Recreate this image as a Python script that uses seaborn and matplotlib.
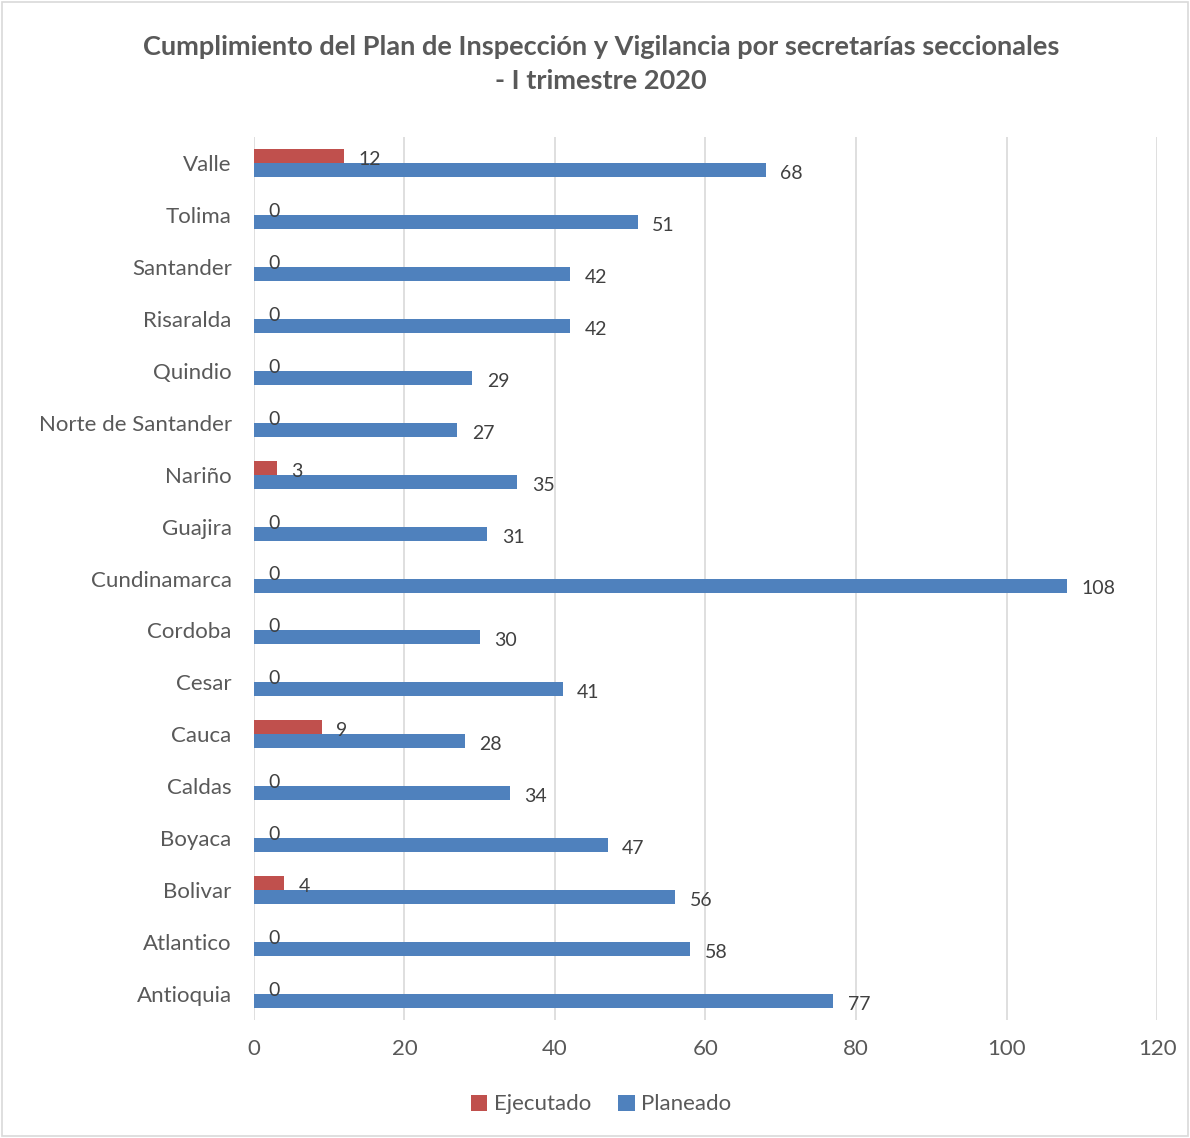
import matplotlib
matplotlib.use("Agg")
import matplotlib.pyplot as plt
from matplotlib.patches import Rectangle
import seaborn as sns
import pandas as pd

regions = ["Valle", "Tolima", "Santander", "Risaralda", "Quindio",
           "Norte de Santander", "Nariño", "Guajira", "Cundinamarca",
           "Cordoba", "Cesar", "Cauca", "Caldas", "Boyaca", "Bolivar",
           "Atlantico", "Antioquia"]
ejecutado = [12, 0, 0, 0, 0, 0, 3, 0, 0, 0, 0, 9, 0, 0, 4, 0, 0]
planeado = [68, 51, 42, 42, 29, 27, 35, 31, 108, 30, 41, 28, 34, 47, 56, 58, 77]
series = ["Ejecutado", "Planeado"]
x_ticks = [0, 20, 40, 60, 80, 100, 120]
title = ("Cumplimiento del Plan de Inspección y Vigilancia por secretarías seccionales\n"
         "- I trimestre 2020")

df = pd.DataFrame({
    "Seccional": regions * 2,
    "Serie": [series[0]] * len(regions) + [series[1]] * len(regions),
    "Valor": ejecutado + planeado,
})

sns.set_theme(style="white")
plt.rcParams["font.family"] = ["Lato", "DejaVu Sans"]

text_col = "#595959"
fig = plt.figure(figsize=(11.9, 11.38), dpi=100)
ax = fig.add_axes([0.2134, 0.1037, 0.7589, 0.7759])

sns.barplot(data=df, y="Seccional", x="Valor", hue="Serie", order=regions,
            hue_order=series, palette=["#C0504D", "#4F81BD"], orient="h",
            width=0.54, saturation=1, linewidth=0, ax=ax, legend=True)

# value labels just past the end of each bar
for cont in ax.containers:
    for patch, val in zip(cont.patches, cont.datavalues):
        yc = patch.get_y() + patch.get_height() / 2
        ax.annotate(f"{int(val)}", xy=(patch.get_width(), yc),
                    xytext=(10.5, -2.5), textcoords="offset points",
                    ha="left", va="center", fontsize=14, color="#404040")

ax.set_xlim(0, 120)
ax.set_xticks(x_ticks)
ax.set_xticklabels([str(t) for t in x_ticks])
ax.set_ylim(len(regions) - 0.5, -0.5)
ax.xaxis.grid(True, color="#D9D9D9", linewidth=1.2)
ax.set_axisbelow(True)
for s in ax.spines.values():
    s.set_visible(False)
ax.set_xlabel("")
ax.set_ylabel("")
ax.tick_params(axis="x", labelsize=16, colors=text_col, pad=14, length=0)
ax.tick_params(axis="y", labelsize=16, colors=text_col, pad=16, length=0)

handles, labels = ax.get_legend_handles_labels()
ax.legend_.remove()
fig.legend(handles, labels, loc="center", bbox_to_anchor=(0.505, 0.0295),
           ncol=2, frameon=False, fontsize=16, labelcolor=text_col,
           handlelength=0.75, handleheight=0.75, handletextpad=0.3,
           columnspacing=1.2)

fig.text(0.505, 0.944, title, ha="center", va="center", fontsize=19.5,
         fontweight="bold", color=text_col, linespacing=1.5)

fig.patches.append(Rectangle((0.002, 0.002), 0.996, 0.996, transform=fig.transFigure,
                             fill=False, edgecolor="#D9D9D9", linewidth=1.2))

fig.savefig("out.png", dpi=100)
